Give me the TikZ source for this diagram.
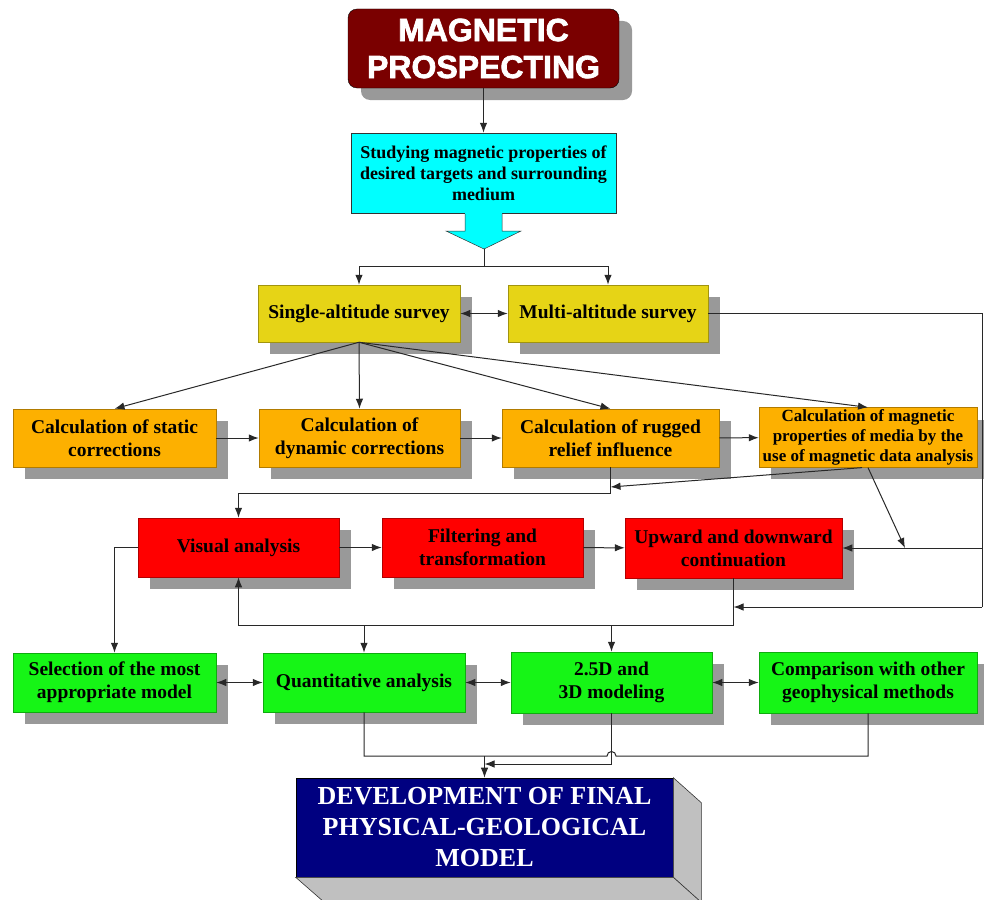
\documentclass[tikz,border=0pt]{standalone}
\usepackage{fontspec}
\setmainfont{Liberation Serif}
\setsansfont{Liberation Sans}
\newfontfamily\titlefont{Liberation Sans Bold}[FakeBold=2.2]
\usepackage{tikz}
\usetikzlibrary{positioning, arrows.meta, shadows, calc}

\definecolor{magred}{RGB}{122,0,0}
\definecolor{cyanbox}{RGB}{0,255,255}
\definecolor{yellowbox}{RGB}{230,212,22}
\definecolor{orangebox}{RGB}{253,176,0}
\definecolor{redbox}{RGB}{255,0,0}
\definecolor{greenbox}{RGB}{22,245,22}
\definecolor{navybox}{RGB}{0,0,128}
\definecolor{shadowgray}{RGB}{153,153,153}
\definecolor{sidegray}{RGB}{192,192,192}
\definecolor{linegray}{RGB}{40,40,40}

\begin{document}
\begin{tikzpicture}[
    x=1pt, y=-1pt,
    block/.style={draw=#1!70!black, fill=#1, line width=0.5pt, minimum height=58pt,
        inner sep=2pt, align=center, font=\bfseries\fontsize{19.5}{23}\selectfont,
        drop shadow={shadow xshift=12pt, shadow yshift=-12pt, fill=shadowgray, opacity=1}},
    arrow/.style={-{Latex[length=10pt,width=7.5pt]}, line width=1pt, draw=linegray},
    darrow/.style={{Latex[length=10pt,width=7.5pt]}-{Latex[length=10pt,width=7.5pt]}, line width=1pt, draw=linegray},
    line/.style={line width=1pt, draw=linegray}
]
\useasboundingbox (0,0) rectangle (984,899);
\clip (0,0) rectangle (984,899);

\node[draw=black, fill=magred, rounded corners=9pt, minimum width=271pt, minimum height=79pt,
    align=center, text=white, font=\titlefont\fontsize{32}{37}\selectfont,
    drop shadow={shadow xshift=13pt, shadow yshift=-12pt, fill=shadowgray, opacity=1}]
    (mag) at (483.5,48.5) {MAGNETIC\\PROSPECTING};

\node[draw=black!80, fill=cyanbox, line width=0.5pt, minimum width=265pt, minimum height=80pt,
    align=center, font=\bfseries\fontsize{18}{21}\selectfont]
    (study) at (483.5,173) {Studying magnetic properties of\\desired targets and surrounding\\medium};
\draw[fill=cyanbox, draw=black!80, line width=0.5pt]
    (465,213) -- (465,231) -- (446,231) -- (484,249) -- (521,231) -- (502,231) -- (502,213);
\fill[cyanbox] (465.4,212.4) rectangle (501.6,214);
\coordinate (studytip) at (484,249);
\coordinate (split) at (484,266);

\node[block=yellowbox, minimum width=202pt, minimum height=57pt] (single) at (359,313.5) {Single-altitude survey};
\node[block=yellowbox, minimum width=200pt, minimum height=57pt] (multi) at (608,313.5) {Multi-altitude survey};

\node[block=orangebox, minimum width=203pt] (static) at (114.5,438) {Calculation of static\\corrections};
\node[block=orangebox, minimum width=201pt] (dynamic) at (359.5,438) {Calculation of\\dynamic corrections};
\node[block=orangebox, minimum width=217pt] (rugged) at (610.5,438) {Calculation of rugged\\relief influence};
\node[block=orangebox, minimum width=218pt, minimum height=59pt, font=\bfseries\fontsize{17}{20}\selectfont]
    (magprop) at (868,437.5) {Calculation of magnetic\\properties of media by the\\use of magnetic data analysis};

\node[block=redbox, minimum width=201pt, minimum height=59pt] (visual) at (238.5,547.5) {Visual analysis};
\node[block=redbox, minimum width=201pt, minimum height=59pt] (filter) at (482.5,547.5) {Filtering and\\transformation};
\node[block=redbox, minimum width=217pt, minimum height=60pt] (upward) at (733.5,548) {Upward and downward\\continuation};

\node[block=greenbox, minimum width=203pt, minimum height=59pt] (select) at (114.5,682.5) {Selection of the most\\appropriate model};
\node[block=greenbox, minimum width=202pt, minimum height=59pt] (quant) at (364,682.5) {Quantitative analysis};
\node[block=greenbox, minimum width=201pt, minimum height=61pt] (model) at (611.5,682.5) {2.5D and\\3D modeling};
\node[block=greenbox, minimum width=218pt, minimum height=61pt] (compare) at (868,682.5) {Comparison with other\\geophysical methods};

\node[draw=black, fill=navybox, line width=0.6pt, minimum width=377pt, minimum height=99pt,
    align=center, text=white, font=\bfseries\fontsize{26}{31}\selectfont]
    (final) at (484.5,827.5) {DEVELOPMENT OF FINAL\\PHYSICAL-GEOLOGICAL\\MODEL};
\draw[fill=sidegray, draw=black!80, line width=0.6pt]
    (final.north east) -- ++(28,25) -- ++(0,100) -- (final.south east) -- cycle;
\draw[fill=sidegray, draw=black!80, line width=0.6pt]
    (final.south west) -- (final.south east) -- ++(28,25) -- ++(-377,0) -- cycle;

\draw[arrow] (mag) -- (study);
\draw[line] (studytip) -- (split);
\draw[arrow] (split) -| (single.north);
\draw[arrow] (split) -| (multi.north);
\draw[darrow] (single) -- (multi);

\coordinate (rtop) at (982,313.5);
\coordinate (rmid) at (982,548);
\coordinate (rbot) at (982,607);
\draw[line] (multi.east) -- (rtop) -- (rbot);
\draw[arrow] (rmid) -- (upward.east);
\draw[arrow] (rbot) -- (rbot -| upward.south);

\draw[arrow] (single.south) -- (static.north);
\draw[arrow] (single.south) -- (dynamic.north);
\draw[arrow] (single.south) -- (rugged.north);
\draw[arrow] (single.south) -- (magprop.north);
\draw[arrow] (static) -- (dynamic);
\draw[arrow] (dynamic) -- (rugged);
\draw[arrow] (rugged) -- (magprop);

\coordinate (rj) at (610.5,493);
\coordinate (rk) at (610.5,487);
\coordinate (rm) at (905,548);
\draw[arrow] (rugged.south) -- (rj) -| (visual.north);
\draw[arrow] ([xshift=-6pt]magprop.south) -- (rk);
\draw[arrow] (magprop.south) -- (rm);

\draw[arrow] (visual) -- (filter);
\draw[arrow] (filter) -- (upward);
\draw[arrow] (visual.west) -| (select.north);

\coordinate (lj) at (733.5,625);
\coordinate (lk) at (238.5,625);
\draw[arrow] (upward.south) -- (lj) -- (lk) -- (visual.south);
\draw[arrow] (quant.north |- lj) -- (quant.north);
\draw[arrow] (model.north |- lj) -- (model.north);

\draw[darrow] (select) -- (quant);
\draw[darrow] (quant) -- (model);
\draw[darrow] (model) -- (compare);

\coordinate (hop) at (607,756);
\coordinate (fin) at (484.5,756);
\coordinate (fin2) at (484.5,764);
\draw[line] (quant.south) |- (hop) arc[start angle=180, end angle=0, radius=4.5pt] -| (compare.south);
\draw[arrow] (model.south) |- (fin2);
\draw[arrow] (fin) -- (final.north);
\end{tikzpicture}
\end{document}
